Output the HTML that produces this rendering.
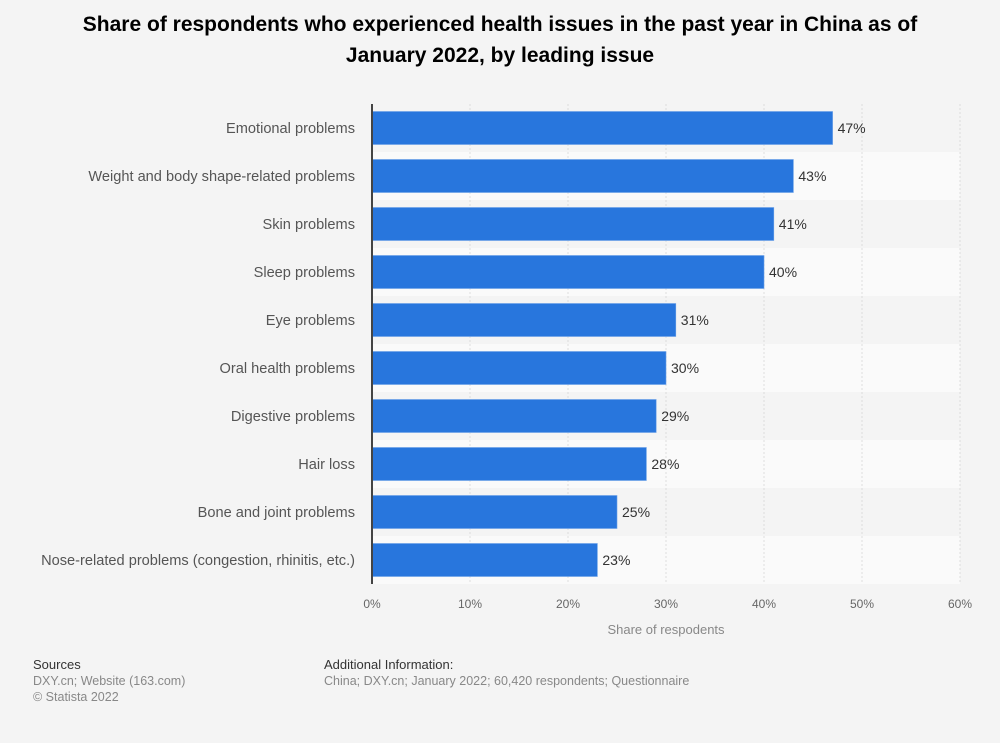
<!DOCTYPE html>
<html><head><meta charset="utf-8"><style>
body{margin:0;background:#f4f4f4;font-family:"Liberation Sans",sans-serif;}
#wrap{position:relative;width:1000px;height:743px;overflow:hidden;}
h1{position:absolute;left:0;top:9px;width:1000px;margin:0;text-align:center;font-size:21px;line-height:31px;font-weight:bold;color:#000;}
.foot{position:absolute;font-size:12.5px;line-height:16px;color:#888;}
.foot b{color:#333;font-weight:normal;font-size:13px;}
</style></head><body>
<div id="wrap">
<h1>Share of respondents who experienced health issues in the past year in China as of<br>January 2022, by leading issue</h1>
<svg id="chart" width="1000" height="743" style="position:absolute;left:0;top:0"></svg>
<div class="foot" style="left:33px;top:657px"><b>Sources</b><br>DXY.cn; Website (163.com)<br>© Statista 2022</div>
<div class="foot" style="left:324px;top:657px"><b>Additional Information:</b><br>China; DXY.cn; January 2022; 60,420 respondents; Questionnaire</div>
</div>
<script>
const categories=["Emotional problems","Weight and body shape-related problems","Skin problems","Sleep problems","Eye problems","Oral health problems","Digestive problems","Hair loss","Bone and joint problems","Nose-related problems (congestion, rhinitis, etc.)"];
const values=[47,43,41,40,31,30,29,28,25,23];
const ticks=[0,10,20,30,40,50,60];
const NS="http://www.w3.org/2000/svg";
const svg=document.getElementById('chart');
const x0=372,x1=960,top0=104,rowH=48,barH=33;
const xs=v=>x0+(v-0)/(60-0)*(x1-x0);
const yr=i=>top0+i*rowH;
function mk(t,a){const e=document.createElementNS(NS,t);for(const k in a)e.setAttribute(k,a[k]);svg.appendChild(e);return e;}
categories.forEach((c,i)=>{
  if(i%2===1){const r=mk('rect',{x:x0,y:yr(i),width:x1-x0,height:rowH,fill:'#fafafa'});
  
  }
});
ticks.forEach(t=>{
  if(t>0){const l=mk('line',{x1:xs(t),x2:xs(t),y1:top0,y2:top0+rowH*categories.length,stroke:'#ddd','stroke-dasharray':'2,2'});
  
  }
  const tx=mk('text',{x:xs(t),y:608,'text-anchor':'middle','font-size':12,fill:'#666'});tx.textContent=t+'%';
  
  
});
categories.forEach((c,i)=>{
  const y=yr(i)+(rowH-barH)/2;
  const b=mk('rect',{x:x0,y:y,width:xs(values[i])-x0,height:barH,fill:'#2876dd',stroke:'#6aa0e8','stroke-width':0.6});
  
  
  const v=mk('text',{x:xs(values[i])+5,y:y+barH/2+5,'font-size':14,fill:'#333'});v.textContent=values[i]+'%';
  
  
  const l=mk('text',{x:355,y:y+barH/2+5,'text-anchor':'end','font-size':14.6,fill:'#555'});l.textContent=c;
  
  
});
const ax=mk('line',{x1:x0,x2:x0,y1:top0,y2:top0+rowH*categories.length,stroke:'#444','stroke-width':2});


const at=mk('text',{x:(x0+x1)/2,y:634,'text-anchor':'middle','font-size':13,fill:'#888'});at.textContent='Share of respodents';


</script>
</body></html>
